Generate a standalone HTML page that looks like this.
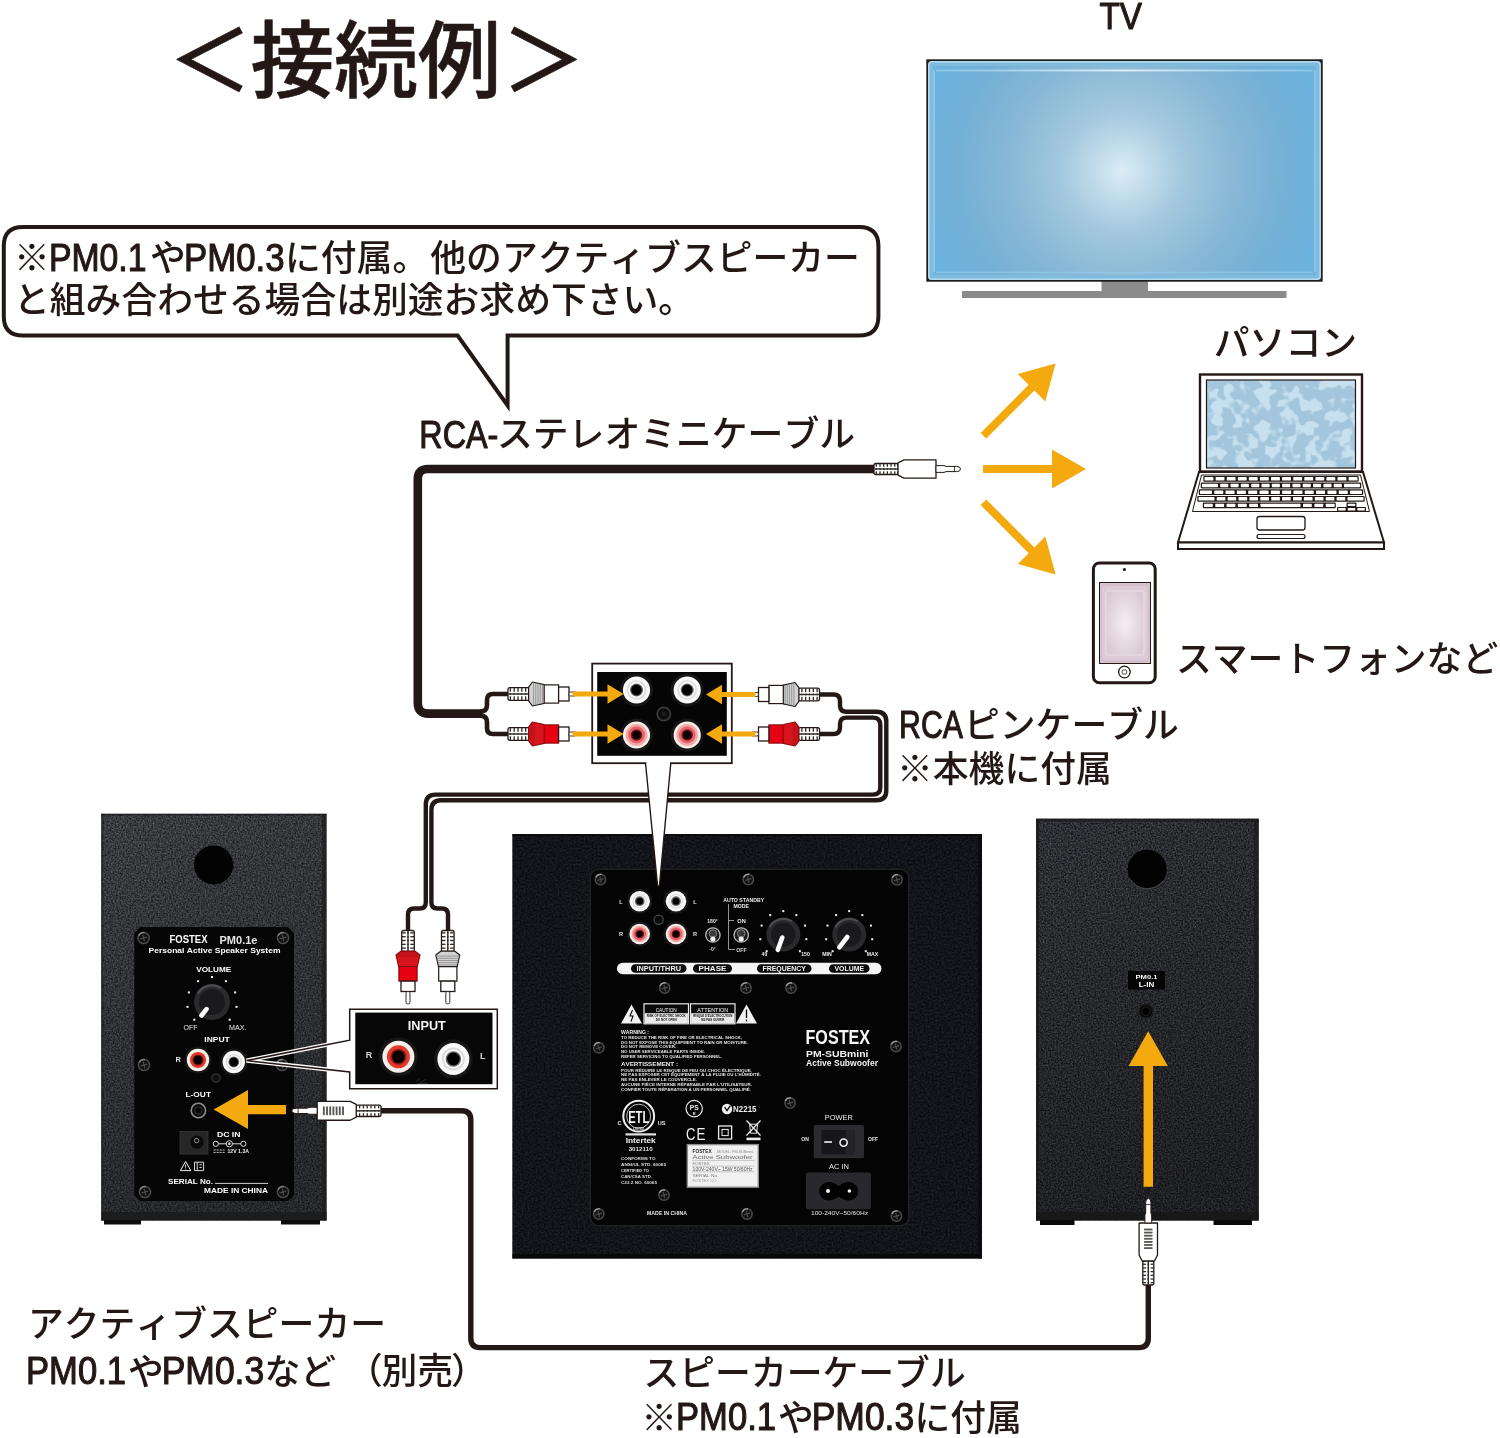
<!DOCTYPE html>
<html lang="ja">
<head>
<meta charset="utf-8">
<title>接続例</title>
<style>
html,body{margin:0;padding:0;background:#fff;}
body{width:1500px;height:1438px;overflow:hidden;position:relative;}
svg{position:absolute;left:0;top:0;display:block;will-change:transform;}
svg text{font-family:"Liberation Sans","Noto Sans CJK JP",sans-serif;font-kerning:none;}
</style>
</head>
<body>
<svg width="1500" height="1438" viewBox="0 0 1500 1438">
<defs>
<radialGradient id="tvg" gradientUnits="userSpaceOnUse" cx="1122" cy="171" r="205">
<stop offset="0" stop-color="#dcedf7"/><stop offset="0.12" stop-color="#c3ddeb"/><stop offset="0.3" stop-color="#a3c8de"/><stop offset="0.55" stop-color="#88b8d6"/><stop offset="0.8" stop-color="#74b0d6"/><stop offset="1" stop-color="#6cb2de"/>
</radialGradient>
<linearGradient id="tvhl" x1="0" x2="1" y1="0" y2="0"><stop offset="0" stop-color="#9fd0ec" stop-opacity="0.6"/><stop offset="0.5" stop-color="#e4f3fb" stop-opacity="1"/><stop offset="1" stop-color="#9fd0ec" stop-opacity="0.6"/></linearGradient>
<radialGradient id="phg" cx="0.5" cy="0.5" r="0.6">
<stop offset="0" stop-color="#f6eef3"/><stop offset="1" stop-color="#d9c9d4"/>
</radialGradient>
<filter id="grain" x="0" y="0" width="100%" height="100%" color-interpolation-filters="sRGB">
<feTurbulence type="fractalNoise" baseFrequency="0.6" numOctaves="2" seed="3" result="n"/>
<feColorMatrix in="n" type="matrix" values="0.42 0 0 0 0.0175  0.42 0 0 0 0.0253  0.42 0 0 0 0.0410  0 0 0 0 1" result="c"/>
<feComposite in="c" in2="SourceAlpha" operator="in"/>
</filter>
<filter id="grainR" x="0" y="0" width="100%" height="100%" color-interpolation-filters="sRGB">
<feTurbulence type="fractalNoise" baseFrequency="0.6" numOctaves="2" seed="8" result="n"/>
<feColorMatrix in="n" type="matrix" values="0.4 0 0 0 -0.0157  0.4 0 0 0 -0.0118  0.4 0 0 0 0.0078  0 0 0 0 1" result="c"/>
<feComposite in="c" in2="SourceAlpha" operator="in"/>
</filter>
<filter id="grain2" x="0" y="0" width="100%" height="100%" color-interpolation-filters="sRGB">
<feTurbulence type="fractalNoise" baseFrequency="0.5" numOctaves="2" seed="11" result="n"/>
<feColorMatrix in="n" type="matrix" values="0.16 0 0 0 -0.0055  0.16 0 0 0 -0.0055  0.16 0 0 0 0.0220  0 0 0 0 1" result="c"/>
<feComposite in="c" in2="SourceAlpha" operator="in"/>
</filter>
<filter id="camo" x="0" y="0" width="100%" height="100%" color-interpolation-filters="sRGB">
<feTurbulence type="fractalNoise" baseFrequency="0.085" numOctaves="2" seed="5" result="n"/>
<feColorMatrix in="n" type="matrix" values="0 0 0 0 0  0 0 0 0 0  0 0 0 0 0  9 0 0 0 -4.3" result="a"/>
<feFlood flood-color="#c6e0ef" result="c"/>
<feComposite in="c" in2="a" operator="in" result="sp"/>
<feMerge><feMergeNode in="SourceGraphic"/><feMergeNode in="sp"/></feMerge>
</filter>
<linearGradient id="shL" x1="0" y1="0" x2="0.25" y2="1"><stop offset="0" stop-color="#000" stop-opacity="0"/><stop offset="0.45" stop-color="#000" stop-opacity="0.16"/><stop offset="1" stop-color="#000" stop-opacity="0.34"/></linearGradient>
<filter id="b1"><feGaussianBlur stdDeviation="0.6"/></filter>
<filter id="b2"><feGaussianBlur stdDeviation="1.2"/></filter>
</defs>
<rect width="1500" height="1438" fill="#ffffff"/>
<path d="M23 227 H859 Q878.4 227 878.4 246 V316.5 Q878.4 335.6 859 335.6 H507.6 V405.5 L457.6 335.6 H23 Q3.8 335.6 3.8 316.5 V246 Q3.8 227 23 227 Z" fill="#fff" stroke="#231815" stroke-width="4" stroke-linejoin="miter"/>
<g>
<rect x="962" y="291" width="324.5" height="7" fill="#8b8b8b"/>
<rect x="1101.5" y="280" width="46.5" height="12" fill="#8b8b8b"/>
<rect x="926.3" y="59.3" width="396.4" height="222.4" fill="#1d1d1f"/>
<rect x="928" y="61" width="393" height="219" rx="3.5" fill="#b4d8ee"/>
<rect x="929.6" y="62.6" width="389.8" height="215.8" rx="3" fill="#7fbbdd"/>
<rect x="933" y="66" width="383" height="209" rx="2" fill="url(#tvg)"/>
<rect x="936" y="69.6" width="377" height="1.8" fill="url(#tvhl)"/>
<path d="M934 70 V272 M1315 70 V272" stroke="#a6d2ec" stroke-width="1.5" opacity="0.75"/>
<path d="M936 272.6 H1313" stroke="#97c9e6" stroke-width="1.5" opacity="0.8"/>
</g>
<g stroke-linejoin="miter">
<rect x="1200" y="374.5" width="162" height="97" fill="#fff" stroke="#231815" stroke-width="2.4"/>
<rect x="1206.5" y="380" width="149" height="88" fill="#a4c6dc" filter="url(#camo)"/>
<rect x="1206.5" y="380" width="149" height="88" fill="none" stroke="#231815" stroke-width="1.2"/>
<path d="M1199 472 L1363 472 L1384 542.5 L1178 542.5 Z" fill="#fff" stroke="#231815" stroke-width="2"/>
<rect x="1178" y="542.5" width="206" height="6.5" fill="#fff" stroke="#231815" stroke-width="2"/>
<path d="M1201.5 475 L1360.5 475 L1369.5 511.5 L1192.5 511.5 Z" fill="#fff" stroke="#231815" stroke-width="1"/>
<rect x="1203.3" y="475.90000000000003" width="155.4" height="5.8" rx="1.2" fill="#231815"/>
<rect x="1204.5" y="477.1" width="8.9" height="3.4" rx="0.6" fill="#fff"/>
<rect x="1215.6" y="477.1" width="8.9" height="3.4" rx="0.6" fill="#fff"/>
<rect x="1226.7" y="477.1" width="8.9" height="3.4" rx="0.6" fill="#fff"/>
<rect x="1237.8" y="477.1" width="8.9" height="3.4" rx="0.6" fill="#fff"/>
<rect x="1248.8" y="477.1" width="8.9" height="3.4" rx="0.6" fill="#fff"/>
<rect x="1259.9" y="477.1" width="8.9" height="3.4" rx="0.6" fill="#fff"/>
<rect x="1271.0" y="477.1" width="8.9" height="3.4" rx="0.6" fill="#fff"/>
<rect x="1282.1" y="477.1" width="8.9" height="3.4" rx="0.6" fill="#fff"/>
<rect x="1293.2" y="477.1" width="8.9" height="3.4" rx="0.6" fill="#fff"/>
<rect x="1304.3" y="477.1" width="8.9" height="3.4" rx="0.6" fill="#fff"/>
<rect x="1315.4" y="477.1" width="8.9" height="3.4" rx="0.6" fill="#fff"/>
<rect x="1326.4" y="477.1" width="8.9" height="3.4" rx="0.6" fill="#fff"/>
<rect x="1337.5" y="477.1" width="8.9" height="3.4" rx="0.6" fill="#fff"/>
<rect x="1348.6" y="477.1" width="8.9" height="3.4" rx="0.6" fill="#fff"/>
<rect x="1200.8" y="482.6" width="160.4" height="5.8" rx="1.2" fill="#231815"/>
<rect x="1202.0" y="483.8" width="16" height="3.4" rx="0.6" fill="#fff"/>
<rect x="1220.2" y="483.8" width="8.1" height="3.4" rx="0.6" fill="#fff"/>
<rect x="1230.5" y="483.8" width="8.1" height="3.4" rx="0.6" fill="#fff"/>
<rect x="1240.8" y="483.8" width="8.1" height="3.4" rx="0.6" fill="#fff"/>
<rect x="1251.2" y="483.8" width="8.1" height="3.4" rx="0.6" fill="#fff"/>
<rect x="1261.5" y="483.8" width="8.1" height="3.4" rx="0.6" fill="#fff"/>
<rect x="1271.8" y="483.8" width="8.1" height="3.4" rx="0.6" fill="#fff"/>
<rect x="1282.1" y="483.8" width="8.1" height="3.4" rx="0.6" fill="#fff"/>
<rect x="1292.4" y="483.8" width="8.1" height="3.4" rx="0.6" fill="#fff"/>
<rect x="1302.7" y="483.8" width="8.1" height="3.4" rx="0.6" fill="#fff"/>
<rect x="1313.0" y="483.8" width="8.1" height="3.4" rx="0.6" fill="#fff"/>
<rect x="1323.4" y="483.8" width="8.1" height="3.4" rx="0.6" fill="#fff"/>
<rect x="1333.7" y="483.8" width="8.1" height="3.4" rx="0.6" fill="#fff"/>
<rect x="1344.0" y="483.8" width="16" height="3.4" rx="0.6" fill="#fff"/>
<rect x="1198.8" y="489.3" width="164.4" height="5.8" rx="1.2" fill="#231815"/>
<rect x="1200.0" y="490.5" width="12" height="3.4" rx="0.6" fill="#fff"/>
<rect x="1214.2" y="490.5" width="9.1" height="3.4" rx="0.6" fill="#fff"/>
<rect x="1225.5" y="490.5" width="9.1" height="3.4" rx="0.6" fill="#fff"/>
<rect x="1236.8" y="490.5" width="9.1" height="3.4" rx="0.6" fill="#fff"/>
<rect x="1248.2" y="490.5" width="9.1" height="3.4" rx="0.6" fill="#fff"/>
<rect x="1259.5" y="490.5" width="9.1" height="3.4" rx="0.6" fill="#fff"/>
<rect x="1270.8" y="490.5" width="9.1" height="3.4" rx="0.6" fill="#fff"/>
<rect x="1282.1" y="490.5" width="9.1" height="3.4" rx="0.6" fill="#fff"/>
<rect x="1293.4" y="490.5" width="9.1" height="3.4" rx="0.6" fill="#fff"/>
<rect x="1304.7" y="490.5" width="9.1" height="3.4" rx="0.6" fill="#fff"/>
<rect x="1316.0" y="490.5" width="9.1" height="3.4" rx="0.6" fill="#fff"/>
<rect x="1327.4" y="490.5" width="9.1" height="3.4" rx="0.6" fill="#fff"/>
<rect x="1338.7" y="490.5" width="9.1" height="3.4" rx="0.6" fill="#fff"/>
<rect x="1350.0" y="490.5" width="12" height="3.4" rx="0.6" fill="#fff"/>
<rect x="1197.3" y="495.90000000000003" width="167.4" height="5.8" rx="1.2" fill="#231815"/>
<rect x="1198.5" y="497.1" width="16" height="3.4" rx="0.6" fill="#fff"/>
<rect x="1216.7" y="497.1" width="8.7" height="3.4" rx="0.6" fill="#fff"/>
<rect x="1227.6" y="497.1" width="8.7" height="3.4" rx="0.6" fill="#fff"/>
<rect x="1238.5" y="497.1" width="8.7" height="3.4" rx="0.6" fill="#fff"/>
<rect x="1249.4" y="497.1" width="8.7" height="3.4" rx="0.6" fill="#fff"/>
<rect x="1260.3" y="497.1" width="8.7" height="3.4" rx="0.6" fill="#fff"/>
<rect x="1271.2" y="497.1" width="8.7" height="3.4" rx="0.6" fill="#fff"/>
<rect x="1282.1" y="497.1" width="8.7" height="3.4" rx="0.6" fill="#fff"/>
<rect x="1293.0" y="497.1" width="8.7" height="3.4" rx="0.6" fill="#fff"/>
<rect x="1303.9" y="497.1" width="8.7" height="3.4" rx="0.6" fill="#fff"/>
<rect x="1314.8" y="497.1" width="8.7" height="3.4" rx="0.6" fill="#fff"/>
<rect x="1325.7" y="497.1" width="8.7" height="3.4" rx="0.6" fill="#fff"/>
<rect x="1336.6" y="497.1" width="8.7" height="3.4" rx="0.6" fill="#fff"/>
<rect x="1347.5" y="497.1" width="16" height="3.4" rx="0.6" fill="#fff"/>
<rect x="1202.8" y="502.5" width="132.99999999999991" height="5.8" rx="1.2" fill="#231815"/>
<rect x="1204.0" y="503.7" width="8.8" height="3.4" rx="0.6" fill="#fff"/>
<rect x="1215.3" y="503.7" width="8.8" height="3.4" rx="0.6" fill="#fff"/>
<rect x="1226.6" y="503.7" width="8.8" height="3.4" rx="0.6" fill="#fff"/>
<rect x="1237.9" y="503.7" width="8.8" height="3.4" rx="0.6" fill="#fff"/>
<rect x="1249.2" y="503.7" width="8.8" height="3.4" rx="0.6" fill="#fff"/>
<rect x="1260.5" y="503.7" width="40" height="3.4" rx="0.6" fill="#fff"/>
<rect x="1303.0" y="503.7" width="8.8" height="3.4" rx="0.6" fill="#fff"/>
<rect x="1314.4" y="503.7" width="8.8" height="3.4" rx="0.6" fill="#fff"/>
<rect x="1325.8" y="503.7" width="8.8" height="3.4" rx="0.6" fill="#fff"/>
<rect x="1337" y="507" width="29" height="4.6" rx="1" fill="#231815"/>
<rect x="1346.5" y="502.6" width="10" height="4.6" rx="1" fill="#231815"/>
<rect x="1338.2" y="508.1" width="7.4" height="2.4" rx="0.5" fill="#fff"/>
<rect x="1347.8" y="508.1" width="7.4" height="2.4" rx="0.5" fill="#fff"/>
<rect x="1357.4" y="508.1" width="7.4" height="2.4" rx="0.5" fill="#fff"/>
<rect x="1347.8" y="503.7" width="7.4" height="2.4" rx="0.5" fill="#fff"/>
<rect x="1257" y="516.5" width="48" height="13.5" rx="2.5" fill="#fff" stroke="#231815" stroke-width="1.3"/>
<rect x="1257" y="534.5" width="48" height="4" rx="2" fill="#fff" stroke="#231815" stroke-width="1.2"/>
</g>
<g>
<rect x="1093.4" y="563" width="61.8" height="119.8" rx="6" fill="#fff" stroke="#231815" stroke-width="3"/>
<rect x="1099.5" y="582.5" width="51" height="81" fill="#d7c5d2" stroke="#231815" stroke-width="1"/>
<rect x="1101.5" y="585" width="47" height="76" rx="3" fill="#dccbd6" stroke="#cdbac8" stroke-width="1"/>
<rect x="1106" y="591" width="38" height="64" rx="1.5" fill="url(#phg)"/>
<rect x="1106" y="591" width="38" height="64" rx="1.5" fill="none" stroke="#eadfe6" stroke-width="1.2"/>
<circle cx="1124.4" cy="672" r="5.8" fill="#fff" stroke="#231815" stroke-width="1.3"/>
<rect x="1122.2" y="669.9" width="4.4" height="4.2" rx="1.2" fill="none" stroke="#231815" stroke-width="0.8"/>
<circle cx="1124.4" cy="569.5" r="1.6" fill="#231815"/>
</g>
<polygon points="986.3,438.5 1034.4,390.5 1045.3,401.4 1055.6,363.6 1017.8,373.9 1028.7,384.8 980.7,432.9" fill="#f4a90f"/>
<polygon points="983.0,473.0 1052.0,473.0 1052.0,488.5 1086.0,469.0 1052.0,449.5 1052.0,465.0 983.0,465.0" fill="#f4a90f"/>
<polygon points="980.7,505.1 1028.7,553.2 1017.8,564.1 1055.6,574.4 1045.3,536.6 1034.4,547.5 986.3,499.5" fill="#f4a90f"/>
<path d="M875 469 H428 Q417.8 469 417.8 479 V703 Q417.8 713.6 428.5 713.6 H482.5" fill="none" stroke="#231815" stroke-width="8.6" stroke-linejoin="round" stroke-linecap="butt"/>
<path d="M480 711.6 Q487 711.6 487 705 V700 Q487 694 493 694 H509" fill="none" stroke="#231815" stroke-width="4.6" stroke-linejoin="round" stroke-linecap="butt"/>
<path d="M480 715.6 Q487 715.6 487 722 V728 Q487 734 493 734 H509" fill="none" stroke="#231815" stroke-width="4.6" stroke-linejoin="round" stroke-linecap="butt"/>
<g transform="translate(874 469) rotate(0) scale(1.0)"><rect x="0" y="-5.5" width="24" height="11" rx="1.6" fill="#fff" stroke="#231815" stroke-width="1.3"/><rect x="1.66" y="-5.20" width="1.26" height="10.40" fill="#2c2724"/><rect x="5.35" y="-5.20" width="1.26" height="10.40" fill="#2c2724"/><rect x="9.05" y="-5.20" width="1.26" height="10.40" fill="#2c2724"/><rect x="12.74" y="-5.20" width="1.26" height="10.40" fill="#2c2724"/><rect x="16.43" y="-5.20" width="1.26" height="10.40" fill="#2c2724"/><rect x="20.12" y="-5.20" width="1.26" height="10.40" fill="#2c2724"/><rect x="1" y="-2.3" width="23" height="1.5" fill="#fff"/><rect x="1" y="0.8" width="23" height="1.5" fill="#fff"/><rect x="0.6" y="-0.7" width="23.4" height="1.4" fill="#2c2724"/><path d="M24 -6.2 L30 -9.2 H62 V9.2 H30 L24 6.2 Z" fill="#fff" stroke="#231815" stroke-width="1.3" stroke-linejoin="round"/><path d="M62 -3.4 H70 L72 -2.6 H82.5 Q86.5 -2.6 86.5 0 Q86.5 2.6 82.5 2.6 H72 L70 3.4 H62 Z" fill="#fff" stroke="#231815" stroke-width="1"/><path d="M80.5 -2.6 V2.6" stroke="#231815" stroke-width="0.8"/></g>
<path d="M819 694.5 H833.5 Q840 694.5 840 701 V705.5 Q840 711.8 846.5 711.8 H876.5 Q886.3 711.8 886.3 721.5 V790.5 Q886.3 800.2 876.5 800.2 H441 Q431.4 800.2 431.4 810 V902.5 Q431.4 908.5 437.5 908.5 H442 Q448 908.5 448 914.5 V931" fill="none" stroke="#231815" stroke-width="4.4" stroke-linejoin="round" stroke-linecap="butt"/>
<path d="M819 734 H833.5 Q840 734 840 727.5 V724 Q840 717.6 846.5 717.6 H873 Q880.3 717.6 880.3 725 V787.5 Q880.3 794.6 873 794.6 H435.5 Q425.8 794.6 425.8 804.5 V902.5 Q425.8 908.5 419.7 908.5 H414 Q408 908.5 408 914.5 V931" fill="none" stroke="#231815" stroke-width="4.4" stroke-linejoin="round" stroke-linecap="butt"/>
<g>
<rect x="101.3" y="813.8" width="225.2" height="406.7" fill="#3a3c40" filter="url(#grain)"/>
<rect x="101.3" y="813.8" width="225.2" height="406.7" fill="url(#shL)"/>
<rect x="101.3" y="813.8" width="2" height="406.7" fill="#222326" opacity="0.8"/>
<rect x="322" y="814" width="4.5" height="406.5" fill="#1c1c1d" opacity="0.7"/>
<rect x="101.3" y="813.8" width="225.2" height="1.6" fill="#1c1d20" opacity="0.85"/>
<rect x="101.5" y="1212" width="225" height="8.5" fill="#1a1a1b" opacity="0.8"/>
<rect x="104" y="1220" width="37" height="4.5" fill="#0c0c0c"/>
<rect x="281" y="1220" width="39" height="4.5" fill="#0c0c0c"/>
<circle cx="213.6" cy="865" r="19.6" fill="#030303"/>
<path d="M140 927 H288 L294 933 V1195 L288 1201 H140 L134.3 1195 V933 Z" fill="#060607"/>
<circle cx="143.6" cy="938" r="5.6" fill="#121212" stroke="#4a4a4a" stroke-width="1.5"/>
<path d="M140.2 938.8 L147.0 937.2 M142.8 934.6 L144.4 941.4" stroke="#4a4a4a" stroke-width="1.2"/>
<path d="M138.6 935.8 A5.6 5.6 0 0 1 144.7 932.6" stroke="#8a8a8a" stroke-width="1.3" fill="none" opacity="0.85"/>
<circle cx="283" cy="938" r="5.6" fill="#121212" stroke="#4a4a4a" stroke-width="1.5"/>
<path d="M279.6 938.8 L286.4 937.2 M282.2 934.6 L283.8 941.4" stroke="#4a4a4a" stroke-width="1.2"/>
<path d="M278.0 935.8 A5.6 5.6 0 0 1 284.1 932.6" stroke="#8a8a8a" stroke-width="1.3" fill="none" opacity="0.85"/>
<circle cx="144" cy="1065" r="5.6" fill="#121212" stroke="#4a4a4a" stroke-width="1.5"/>
<path d="M140.6 1065.8 L147.4 1064.2 M143.2 1061.6 L144.8 1068.4" stroke="#4a4a4a" stroke-width="1.2"/>
<path d="M139.0 1062.8 A5.6 5.6 0 0 1 145.1 1059.6" stroke="#8a8a8a" stroke-width="1.3" fill="none" opacity="0.85"/>
<circle cx="282" cy="1065" r="5.6" fill="#121212" stroke="#4a4a4a" stroke-width="1.5"/>
<path d="M278.6 1065.8 L285.4 1064.2 M281.2 1061.6 L282.8 1068.4" stroke="#4a4a4a" stroke-width="1.2"/>
<path d="M277.0 1062.8 A5.6 5.6 0 0 1 283.1 1059.6" stroke="#8a8a8a" stroke-width="1.3" fill="none" opacity="0.85"/>
<circle cx="145" cy="1192" r="5.6" fill="#121212" stroke="#4a4a4a" stroke-width="1.5"/>
<path d="M141.6 1192.8 L148.4 1191.2 M144.2 1188.6 L145.8 1195.4" stroke="#4a4a4a" stroke-width="1.2"/>
<path d="M140.0 1189.8 A5.6 5.6 0 0 1 146.1 1186.6" stroke="#8a8a8a" stroke-width="1.3" fill="none" opacity="0.85"/>
<circle cx="283" cy="1192" r="5.6" fill="#121212" stroke="#4a4a4a" stroke-width="1.5"/>
<path d="M279.6 1192.8 L286.4 1191.2 M282.2 1188.6 L283.8 1195.4" stroke="#4a4a4a" stroke-width="1.2"/>
<path d="M278.0 1189.8 A5.6 5.6 0 0 1 284.1 1186.6" stroke="#8a8a8a" stroke-width="1.3" fill="none" opacity="0.85"/>
<text x="169.5" y="943.4" font-size="10.8" fill="#fff" font-weight="700" textLength="38" lengthAdjust="spacingAndGlyphs">FOSTEX</text>
<text x="219.5" y="943.6" font-size="10.8" fill="#e6e6e6" font-weight="700" textLength="38" lengthAdjust="spacingAndGlyphs">PM0.1e</text>
<text x="148.5" y="953.2" font-size="6.6" fill="#fff" font-weight="700" textLength="132" lengthAdjust="spacingAndGlyphs">Personal Active Speaker System</text>
<text x="196.3" y="972" font-size="7.2" fill="#fff" font-weight="700" textLength="35" lengthAdjust="spacingAndGlyphs">VOLUME</text>
<circle cx="212" cy="1002" r="18" fill="#2a2a2c"/>
<circle cx="212" cy="1002" r="13.0" fill="#1a1a1c"/>
<path d="M197.6 993.9 A16.6 16.6 0 0 1 221.0 988.0" stroke="#55555a" stroke-width="2.2" fill="none" opacity="0.8"/>
<path d="M206.5 1009.1 L201.5 1015.5" stroke="#ffffff" stroke-width="4.6" stroke-linecap="round"/>
<rect x="193.3" y="1018.7" width="2" height="2" fill="#f2f2f2"/>
<rect x="186.5" y="1005.9" width="2" height="2" fill="#f2f2f2"/>
<rect x="187.9" y="991.4" width="2" height="2" fill="#f2f2f2"/>
<rect x="197.1" y="980.2" width="2" height="2" fill="#f2f2f2"/>
<rect x="211.0" y="976.0" width="2" height="2" fill="#f2f2f2"/>
<rect x="224.9" y="980.2" width="2" height="2" fill="#f2f2f2"/>
<rect x="234.1" y="991.4" width="2" height="2" fill="#f2f2f2"/>
<rect x="235.5" y="1005.9" width="2" height="2" fill="#f2f2f2"/>
<rect x="228.7" y="1018.7" width="2" height="2" fill="#f2f2f2"/>
<text x="183.5" y="1030.3" font-size="6.6" fill="#ededed" font-weight="400" textLength="14" lengthAdjust="spacingAndGlyphs">OFF</text>
<text x="229" y="1030.3" font-size="6.6" fill="#ededed" font-weight="400" textLength="17.5" lengthAdjust="spacingAndGlyphs">MAX.</text>
<text x="204.3" y="1041.8" font-size="7.2" fill="#fff" font-weight="700" textLength="25.5" lengthAdjust="spacingAndGlyphs">INPUT</text>
<text x="175.6" y="1062" font-size="7.4" fill="#e6e6e6" font-weight="700">R</text>
<g filter="url(#b1)">
<circle cx="198" cy="1060" r="13.7" fill="#151515"/>
<circle cx="198" cy="1060" r="11.2" fill="#f6efe9"/>
<circle cx="198" cy="1060" r="8.1" fill="#e5382a"/>
<circle cx="198" cy="1060" r="5.6" fill="#8e1a14"/>
<circle cx="198" cy="1060" r="4.5" fill="#0a0505"/>
</g>
<g filter="url(#b1)">
<circle cx="233.8" cy="1062" r="13.7" fill="#151515"/>
<circle cx="233.8" cy="1062" r="11.2" fill="#f8f8f8"/>
<circle cx="233.8" cy="1062" r="8.1" fill="#dcdcdc"/>
<circle cx="233.8" cy="1062" r="6.7" fill="#fbfbfb"/>
<circle cx="233.8" cy="1062" r="5.4" fill="#6a6a6a"/>
<circle cx="233.8" cy="1062" r="4.5" fill="#060606"/>
</g>
<circle cx="216" cy="1078" r="4.2" fill="#111" stroke="#333" stroke-width="1.2"/>
<text x="185.5" y="1096.6" font-size="7.2" fill="#fff" font-weight="700" textLength="25.5" lengthAdjust="spacingAndGlyphs">L-OUT</text>
<circle cx="198.4" cy="1110.5" r="7.2" fill="#0a0a0a" stroke="#8c8c8c" stroke-width="1.6"/>
<circle cx="198.4" cy="1110.5" r="3.6" fill="#000" stroke="#3a3a3a" stroke-width="1"/>
<rect x="180" y="1131.5" width="28" height="22.5" fill="#262627" stroke="#3a3a3b" stroke-width="0.8"/>
<circle cx="197" cy="1142.2" r="6.6" fill="#0a0a0a"/>
<circle cx="196.6" cy="1140.6" r="2.2" fill="none" stroke="#9a9a9a" stroke-width="0.9"/>
<text x="217" y="1136.8" font-size="7.2" fill="#fff" font-weight="700" textLength="23.5" lengthAdjust="spacingAndGlyphs">DC IN</text>
<g stroke="#f0f0f0" stroke-width="0.9" fill="none"><circle cx="215.8" cy="1143.8" r="2.6"/><circle cx="229.4" cy="1143.8" r="3.1"/><circle cx="243.4" cy="1143.8" r="2.6"/><path d="M218.4 1143.8 H226.3 M232.5 1143.8 H240.8"/></g>
<circle cx="229.4" cy="1143.8" r="1.2" fill="#f0f0f0"/>
<path d="M213.5 1150 H225 M213.5 1152.4 H225" stroke="#e6e6e6" stroke-width="0.8" stroke-dasharray="2.2 0.8"/>
<text x="227.5" y="1153.4" font-size="5.6" fill="#ededed" font-weight="700" textLength="21.5" lengthAdjust="spacingAndGlyphs">12V 1.3A</text>
<path d="M185.6 1161.5 L190.8 1170.6 H180.4 Z" fill="none" stroke="#f0f0f0" stroke-width="1"/>
<path d="M185.6 1164.6 V1167.6 M185.6 1168.6 V1169.4" stroke="#f0f0f0" stroke-width="0.9"/>
<path d="M194.5 1162.2 H203.6 V1170.6 H194.5 Z M197.2 1162.2 V1170.6 M199.4 1164.8 H201.8 M199.4 1167.4 H201.8" fill="none" stroke="#f0f0f0" stroke-width="0.9"/>
<text x="168" y="1184.4" font-size="7" fill="#fff" font-weight="700" textLength="45" lengthAdjust="spacingAndGlyphs">SERIAL No.</text>
<path d="M215 1183.4 H268" stroke="#e8e8e8" stroke-width="0.9"/>
<text x="204" y="1193.4" font-size="7" fill="#fff" font-weight="700" textLength="64" lengthAdjust="spacingAndGlyphs">MADE IN CHINA</text>
</g>
<g>
<rect x="1036" y="818.5" width="222.8" height="402" fill="#2f3035" filter="url(#grainR)"/>
<rect x="1036" y="818.5" width="222.8" height="402" fill="url(#shL)"/>
<rect x="1036" y="819" width="3" height="401.5" fill="#1b1b1c" opacity="0.8"/>
<rect x="1254" y="819" width="4.5" height="401.5" fill="#1b1b1c" opacity="0.7"/>
<rect x="1036" y="819" width="222.5" height="2.5" fill="#1b1b1c" opacity="0.8"/>
<rect x="1036" y="1212" width="222.5" height="8.5" fill="#161617" opacity="0.8"/>
<rect x="1040" y="1220" width="34.5" height="5" fill="#0a0a0a"/>
<rect x="1213.5" y="1220" width="38.5" height="5" fill="#0a0a0a"/>
<circle cx="1147.2" cy="869.3" r="19.6" fill="#030303"/>
<path d="M1130.5 879.5 A19.8 19.8 0 0 0 1163 880.8" stroke="#6a675f" stroke-width="1" fill="none" opacity="0.7"/>
<rect x="1128" y="971" width="37" height="18.5" fill="#050505"/>
<text x="1146.5" y="978.6" font-size="6.2" fill="#fff" font-weight="700" textLength="22" lengthAdjust="spacingAndGlyphs" text-anchor="middle">PM0.1</text>
<text x="1146.5" y="987.4" font-size="7" fill="#fff" font-weight="700" textLength="15.5" lengthAdjust="spacingAndGlyphs" text-anchor="middle">L-IN</text>
<circle cx="1146" cy="1011.2" r="6.8" fill="#070707" stroke="#1a1a1a" stroke-width="1.5"/>
<circle cx="1146" cy="1011.2" r="4.2" fill="#000" stroke="#2c2c2c" stroke-width="0.8"/>
</g>
<rect x="349.7" y="1009.3" width="147.6" height="79.5" fill="#fff"/>
<path d="M349.7 1040.2 V1009.3 H497.3 V1088.8 H349.7 V1072 L246.5 1060.6 Z" fill="none" stroke="#fff" stroke-width="4.2" stroke-linejoin="miter"/>
<path d="M349.7 1040.2 V1009.3 H497.3 V1088.8 H349.7 V1072 L246.5 1060.6 Z" fill="none" stroke="#231815" stroke-width="1.5" stroke-linejoin="miter"/>
<rect x="355.3" y="1012.6" width="137.2" height="71.6" fill="#070708"/>
<g filter="url(#b1)">
<text x="426.8" y="1030" font-size="12.4" fill="#f6f6f6" font-weight="700" textLength="38" lengthAdjust="spacingAndGlyphs" text-anchor="middle">INPUT</text>
<text x="369" y="1057.6" font-size="9" fill="#d0d0d0" font-weight="700" text-anchor="middle">R</text>
<text x="482.8" y="1058.6" font-size="9" fill="#d0d0d0" font-weight="700" text-anchor="middle">L</text>
<path d="M416 1081.5 l4 -3 M421 1082.5 l5 -3.5 M417 1083.5 h10" stroke="#2a2a2a" stroke-width="1"/>
</g>
<g filter="url(#b1)">
<circle cx="398.4" cy="1056.8" r="19.5" fill="#151515"/>
<circle cx="398.4" cy="1056.8" r="16.0" fill="#f6efe9"/>
<circle cx="398.4" cy="1056.8" r="11.5" fill="#e5382a"/>
<circle cx="398.4" cy="1056.8" r="8.0" fill="#8e1a14"/>
<circle cx="398.4" cy="1056.8" r="6.4" fill="#0a0505"/>
</g>
<g filter="url(#b1)">
<circle cx="453.4" cy="1059" r="19.5" fill="#151515"/>
<circle cx="453.4" cy="1059" r="16.0" fill="#f8f8f8"/>
<circle cx="453.4" cy="1059" r="11.5" fill="#dcdcdc"/>
<circle cx="453.4" cy="1059" r="9.6" fill="#fbfbfb"/>
<circle cx="453.4" cy="1059" r="7.7" fill="#6a6a6a"/>
<circle cx="453.4" cy="1059" r="6.4" fill="#060606"/>
</g>
<polygon points="213.6,1109.6 248,1090 248,1105 286,1105 286,1114.2 248,1114.2 248,1129" fill="#f4a90f"/>
<polygon points="1148.2,1031.3 1167.8,1066 1153,1066 1153,1186.8 1143.6,1186.8 1143.6,1066 1128.6,1066" fill="#f4a90f"/>
<path d="M380 1110.8 H462 Q470.8 1110.8 470.8 1120 V1338 Q470.8 1347.6 480 1347.6 H1139 Q1148.3 1347.6 1148.3 1338 V1284" fill="none" stroke="#231815" stroke-width="5.4" stroke-linejoin="round" stroke-linecap="butt"/>
<g transform="translate(381 1110.8) rotate(180) scale(1.03)"><rect x="0" y="-5.5" width="24" height="11" rx="1.6" fill="#fff" stroke="#231815" stroke-width="1.3"/><rect x="1.66" y="-5.20" width="1.26" height="10.40" fill="#2c2724"/><rect x="5.35" y="-5.20" width="1.26" height="10.40" fill="#2c2724"/><rect x="9.05" y="-5.20" width="1.26" height="10.40" fill="#2c2724"/><rect x="12.74" y="-5.20" width="1.26" height="10.40" fill="#2c2724"/><rect x="16.43" y="-5.20" width="1.26" height="10.40" fill="#2c2724"/><rect x="20.12" y="-5.20" width="1.26" height="10.40" fill="#2c2724"/><rect x="1" y="-2.3" width="23" height="1.5" fill="#fff"/><rect x="1" y="0.8" width="23" height="1.5" fill="#fff"/><rect x="0.6" y="-0.7" width="23.4" height="1.4" fill="#2c2724"/><path d="M24 -6.2 L30 -9.2 H62 V9.2 H30 L24 6.2 Z" fill="#fff" stroke="#231815" stroke-width="1.3" stroke-linejoin="round"/><path d="M62 -3.4 H70 L72 -2.6 H82.5 Q86.5 -2.6 86.5 0 Q86.5 2.6 82.5 2.6 H72 L70 3.4 H62 Z" fill="#fff" stroke="#231815" stroke-width="1"/><path d="M80.5 -2.6 V2.6" stroke="#231815" stroke-width="0.8"/></g>
<g transform="translate(381 1110.8) rotate(180) scale(1.03)"><rect x="36.0" y="-4.2" width="1.8" height="8.4" fill="#5a5654"/><rect x="39.1" y="-4.2" width="1.8" height="8.4" fill="#5a5654"/><rect x="42.2" y="-4.2" width="1.8" height="8.4" fill="#5a5654"/><rect x="45.3" y="-4.2" width="1.8" height="8.4" fill="#5a5654"/><rect x="48.4" y="-4.2" width="1.8" height="8.4" fill="#5a5654"/><rect x="51.5" y="-4.2" width="1.8" height="8.4" fill="#5a5654"/><rect x="54.6" y="-4.2" width="1.8" height="8.4" fill="#5a5654"/></g>
<g transform="translate(1148.3 1285) rotate(-90) scale(1.0)"><rect x="0" y="-5.5" width="24" height="11" rx="1.6" fill="#fff" stroke="#231815" stroke-width="1.3"/><rect x="1.66" y="-5.20" width="1.26" height="10.40" fill="#2c2724"/><rect x="5.35" y="-5.20" width="1.26" height="10.40" fill="#2c2724"/><rect x="9.05" y="-5.20" width="1.26" height="10.40" fill="#2c2724"/><rect x="12.74" y="-5.20" width="1.26" height="10.40" fill="#2c2724"/><rect x="16.43" y="-5.20" width="1.26" height="10.40" fill="#2c2724"/><rect x="20.12" y="-5.20" width="1.26" height="10.40" fill="#2c2724"/><rect x="1" y="-2.3" width="23" height="1.5" fill="#fff"/><rect x="1" y="0.8" width="23" height="1.5" fill="#fff"/><rect x="0.6" y="-0.7" width="23.4" height="1.4" fill="#2c2724"/><path d="M24 -6.2 L30 -9.2 H62 V9.2 H30 L24 6.2 Z" fill="#fff" stroke="#231815" stroke-width="1.3" stroke-linejoin="round"/><path d="M62 -3.4 H70 L72 -2.6 H82.5 Q86.5 -2.6 86.5 0 Q86.5 2.6 82.5 2.6 H72 L70 3.4 H62 Z" fill="#fff" stroke="#231815" stroke-width="1"/><path d="M80.5 -2.6 V2.6" stroke="#231815" stroke-width="0.8"/></g>
<g transform="translate(1148.3 1285) rotate(-90) scale(1.0)"><rect x="36.0" y="-4.2" width="1.8" height="8.4" fill="#5a5654"/><rect x="39.1" y="-4.2" width="1.8" height="8.4" fill="#5a5654"/><rect x="42.2" y="-4.2" width="1.8" height="8.4" fill="#5a5654"/><rect x="45.3" y="-4.2" width="1.8" height="8.4" fill="#5a5654"/><rect x="48.4" y="-4.2" width="1.8" height="8.4" fill="#5a5654"/><rect x="51.5" y="-4.2" width="1.8" height="8.4" fill="#5a5654"/><rect x="54.6" y="-4.2" width="1.8" height="8.4" fill="#5a5654"/></g>
<g>
<rect x="512.3" y="834" width="469.7" height="424.5" fill="#13131a" filter="url(#grain2)"/>
<rect x="512.5" y="834" width="469.5" height="2" fill="#0b0b0e" opacity="0.9"/>
<rect x="512.5" y="1254" width="469.5" height="4.5" fill="#08080a" opacity="0.9"/>
<rect x="978" y="834" width="4" height="424.5" fill="#0a0a0d" opacity="0.8"/>
<rect x="589.5" y="868.5" width="320" height="358" rx="9" fill="#1f1f24"/>
<rect x="591" y="870" width="317" height="355" rx="8" fill="#040405"/>
<circle cx="600.5" cy="879.5" r="5.2" fill="#121212" stroke="#4a4a4a" stroke-width="1.5"/>
<path d="M597.4 880.3 L603.6 878.7 M599.7 876.4 L601.3 882.6" stroke="#4a4a4a" stroke-width="1.2"/>
<path d="M595.8 877.4 A5.2 5.2 0 0 1 601.5 874.5" stroke="#b0b0b0" stroke-width="1.3" fill="none" opacity="0.85"/>
<circle cx="748.3" cy="879.5" r="5.2" fill="#121212" stroke="#4a4a4a" stroke-width="1.5"/>
<path d="M745.2 880.3 L751.4 878.7 M747.5 876.4 L749.1 882.6" stroke="#4a4a4a" stroke-width="1.2"/>
<path d="M743.6 877.4 A5.2 5.2 0 0 1 749.3 874.5" stroke="#b0b0b0" stroke-width="1.3" fill="none" opacity="0.85"/>
<circle cx="897" cy="879.8" r="5.2" fill="#121212" stroke="#4a4a4a" stroke-width="1.5"/>
<path d="M893.9 880.6 L900.1 879.0 M896.2 876.7 L897.8 882.9" stroke="#4a4a4a" stroke-width="1.2"/>
<path d="M892.3 877.7 A5.2 5.2 0 0 1 898.0 874.8" stroke="#b0b0b0" stroke-width="1.3" fill="none" opacity="0.85"/>
<circle cx="664.7" cy="988" r="5.2" fill="#121212" stroke="#4a4a4a" stroke-width="1.5"/>
<path d="M661.6 988.8 L667.8 987.2 M663.9 984.9 L665.5 991.1" stroke="#4a4a4a" stroke-width="1.2"/>
<path d="M660.0 985.9 A5.2 5.2 0 0 1 665.7 983.0" stroke="#b0b0b0" stroke-width="1.3" fill="none" opacity="0.85"/>
<circle cx="746" cy="988" r="5.2" fill="#121212" stroke="#4a4a4a" stroke-width="1.5"/>
<path d="M742.9 988.8 L749.1 987.2 M745.2 984.9 L746.8 991.1" stroke="#4a4a4a" stroke-width="1.2"/>
<path d="M741.3 985.9 A5.2 5.2 0 0 1 747.0 983.0" stroke="#b0b0b0" stroke-width="1.3" fill="none" opacity="0.85"/>
<circle cx="791" cy="988" r="5.2" fill="#121212" stroke="#4a4a4a" stroke-width="1.5"/>
<path d="M787.9 988.8 L794.1 987.2 M790.2 984.9 L791.8 991.1" stroke="#4a4a4a" stroke-width="1.2"/>
<path d="M786.3 985.9 A5.2 5.2 0 0 1 792.0 983.0" stroke="#b0b0b0" stroke-width="1.3" fill="none" opacity="0.85"/>
<circle cx="598.8" cy="1047.8" r="5.2" fill="#121212" stroke="#4a4a4a" stroke-width="1.5"/>
<path d="M595.7 1048.6 L601.9 1047.0 M598.0 1044.7 L599.6 1050.9" stroke="#4a4a4a" stroke-width="1.2"/>
<path d="M594.1 1045.7 A5.2 5.2 0 0 1 599.8 1042.8" stroke="#b0b0b0" stroke-width="1.3" fill="none" opacity="0.85"/>
<circle cx="896" cy="1046.5" r="5.2" fill="#121212" stroke="#4a4a4a" stroke-width="1.5"/>
<path d="M892.9 1047.3 L899.1 1045.7 M895.2 1043.4 L896.8 1049.6" stroke="#4a4a4a" stroke-width="1.2"/>
<path d="M891.3 1044.4 A5.2 5.2 0 0 1 897.0 1041.5" stroke="#b0b0b0" stroke-width="1.3" fill="none" opacity="0.85"/>
<circle cx="790" cy="1103" r="5.2" fill="#121212" stroke="#4a4a4a" stroke-width="1.5"/>
<path d="M786.9 1103.8 L793.1 1102.2 M789.2 1099.9 L790.8 1106.1" stroke="#4a4a4a" stroke-width="1.2"/>
<path d="M785.3 1100.9 A5.2 5.2 0 0 1 791.0 1098.0" stroke="#b0b0b0" stroke-width="1.3" fill="none" opacity="0.85"/>
<circle cx="664" cy="1195" r="5.2" fill="#121212" stroke="#4a4a4a" stroke-width="1.5"/>
<path d="M660.9 1195.8 L667.1 1194.2 M663.2 1191.9 L664.8 1198.1" stroke="#4a4a4a" stroke-width="1.2"/>
<path d="M659.3 1192.9 A5.2 5.2 0 0 1 665.0 1190.0" stroke="#b0b0b0" stroke-width="1.3" fill="none" opacity="0.85"/>
<circle cx="598.8" cy="1214" r="5.2" fill="#121212" stroke="#4a4a4a" stroke-width="1.5"/>
<path d="M595.7 1214.8 L601.9 1213.2 M598.0 1210.9 L599.6 1217.1" stroke="#4a4a4a" stroke-width="1.2"/>
<path d="M594.1 1211.9 A5.2 5.2 0 0 1 599.8 1209.0" stroke="#b0b0b0" stroke-width="1.3" fill="none" opacity="0.85"/>
<circle cx="747" cy="1214" r="5.2" fill="#121212" stroke="#4a4a4a" stroke-width="1.5"/>
<path d="M743.9 1214.8 L750.1 1213.2 M746.2 1210.9 L747.8 1217.1" stroke="#4a4a4a" stroke-width="1.2"/>
<path d="M742.3 1211.9 A5.2 5.2 0 0 1 748.0 1209.0" stroke="#b0b0b0" stroke-width="1.3" fill="none" opacity="0.85"/>
<circle cx="896.5" cy="1216" r="5.2" fill="#121212" stroke="#4a4a4a" stroke-width="1.5"/>
<path d="M893.4 1216.8 L899.6 1215.2 M895.7 1212.9 L897.3 1219.1" stroke="#4a4a4a" stroke-width="1.2"/>
<path d="M891.8 1213.9 A5.2 5.2 0 0 1 897.5 1211.0" stroke="#b0b0b0" stroke-width="1.3" fill="none" opacity="0.85"/>
<g filter="url(#b1)">
<circle cx="639.7" cy="901.2" r="12.6" fill="#151515"/>
<circle cx="639.7" cy="901.2" r="10.3" fill="#f8f8f8"/>
<circle cx="639.7" cy="901.2" r="7.4" fill="#dcdcdc"/>
<circle cx="639.7" cy="901.2" r="6.2" fill="#fbfbfb"/>
<circle cx="639.7" cy="901.2" r="4.9" fill="#6a6a6a"/>
<circle cx="639.7" cy="901.2" r="3.5" fill="#060606"/>
</g>
<g filter="url(#b1)">
<circle cx="676" cy="901.2" r="12.6" fill="#151515"/>
<circle cx="676" cy="901.2" r="10.3" fill="#f8f8f8"/>
<circle cx="676" cy="901.2" r="7.4" fill="#dcdcdc"/>
<circle cx="676" cy="901.2" r="6.2" fill="#fbfbfb"/>
<circle cx="676" cy="901.2" r="4.9" fill="#6a6a6a"/>
<circle cx="676" cy="901.2" r="3.5" fill="#060606"/>
</g>
<g filter="url(#b1)">
<circle cx="639.7" cy="934" r="12.6" fill="#151515"/>
<circle cx="639.7" cy="934" r="10.3" fill="#f6efe9"/>
<circle cx="639.7" cy="934" r="8.2" fill="#f2a9a8"/>
<circle cx="639.7" cy="934" r="6.4" fill="#e4646a"/>
<circle cx="639.7" cy="934" r="4.3" fill="#6e1218"/>
<circle cx="639.7" cy="934" r="3.1" fill="#0a0505"/>
</g>
<g filter="url(#b1)">
<circle cx="676" cy="934" r="12.6" fill="#151515"/>
<circle cx="676" cy="934" r="10.3" fill="#f6efe9"/>
<circle cx="676" cy="934" r="8.2" fill="#f2a9a8"/>
<circle cx="676" cy="934" r="6.4" fill="#e4646a"/>
<circle cx="676" cy="934" r="4.3" fill="#6e1218"/>
<circle cx="676" cy="934" r="3.1" fill="#0a0505"/>
</g>
<circle cx="658.6" cy="919.7" r="4.6" fill="#0a0a0a" stroke="#4a4a4a" stroke-width="1.2"/>
<text x="621" y="903.5" font-size="5.6" fill="#e0e0e0" font-weight="700" text-anchor="middle">L</text>
<text x="695" y="903.5" font-size="5.6" fill="#e0e0e0" font-weight="700" text-anchor="middle">L</text>
<text x="621" y="936" font-size="5.6" fill="#e0e0e0" font-weight="700" text-anchor="middle">R</text>
<text x="695" y="936" font-size="5.6" fill="#e0e0e0" font-weight="700" text-anchor="middle">R</text>
<circle cx="712.9" cy="935" r="7.2" fill="#1a1a1a" stroke="#bdbdbd" stroke-width="1.3"/>
<circle cx="712.9" cy="933.6" r="3.8" fill="#3a3a3a" stroke="#8d8d8d" stroke-width="0.9"/>
<circle cx="712.9" cy="939" r="2.6" fill="#f4f4f4"/>
<circle cx="741.2" cy="935" r="7.2" fill="#1a1a1a" stroke="#bdbdbd" stroke-width="1.3"/>
<circle cx="741.2" cy="933.6" r="3.8" fill="#3a3a3a" stroke="#8d8d8d" stroke-width="0.9"/>
<circle cx="741.2" cy="939" r="2.6" fill="#f4f4f4"/>
<text x="712.5" y="922.5" font-size="5.2" fill="#ececec" font-weight="700" textLength="10.5" lengthAdjust="spacingAndGlyphs" text-anchor="middle">180°</text>
<text x="712.5" y="951.3" font-size="5" fill="#dcdcdc" font-weight="700" text-anchor="middle">-0°</text>
<text x="743.7" y="902" font-size="5.6" fill="#ececec" font-weight="700" textLength="41" lengthAdjust="spacingAndGlyphs" text-anchor="middle">AUTO STANDBY</text>
<text x="741.2" y="908.2" font-size="5.6" fill="#ececec" font-weight="700" textLength="15.5" lengthAdjust="spacingAndGlyphs" text-anchor="middle">MODE</text>
<text x="741.5" y="922.6" font-size="5.6" fill="#ececec" font-weight="700" text-anchor="middle">ON</text>
<text x="741.5" y="951.6" font-size="5.2" fill="#dcdcdc" font-weight="700" text-anchor="middle">OFF</text>
<path d="M728.5 904 V949.5 H735 M728.5 920.5 H734" stroke="#d0d0d0" stroke-width="0.7" fill="none"/>
<circle cx="783.3" cy="934.6" r="17" fill="#2a2a2c"/>
<circle cx="783.3" cy="934.6" r="12.2" fill="#1a1a1c"/>
<path d="M769.7 927.0 A15.6 15.6 0 0 1 791.8 921.3" stroke="#55555a" stroke-width="2.2" fill="none" opacity="0.8"/>
<path d="M782.3 937.5 L777.8 949.8" stroke="#ffffff" stroke-width="4.6" stroke-linecap="round"/>
<circle cx="849.2" cy="934.6" r="17" fill="#2a2a2c"/>
<circle cx="849.2" cy="934.6" r="12.2" fill="#1a1a1c"/>
<path d="M835.6 927.0 A15.6 15.6 0 0 1 857.7 921.3" stroke="#55555a" stroke-width="2.2" fill="none" opacity="0.8"/>
<path d="M847.3 937.0 L839.3 947.3" stroke="#ffffff" stroke-width="4.6" stroke-linecap="round"/>
<rect x="765.7" y="950.2" width="2" height="2" fill="#f2f2f2"/>
<rect x="759.3" y="938.2" width="2" height="2" fill="#f2f2f2"/>
<rect x="760.6" y="924.6" width="2" height="2" fill="#f2f2f2"/>
<rect x="769.2" y="914.1" width="2" height="2" fill="#f2f2f2"/>
<rect x="782.3" y="910.1" width="2" height="2" fill="#f2f2f2"/>
<rect x="795.4" y="914.1" width="2" height="2" fill="#f2f2f2"/>
<rect x="804.0" y="924.6" width="2" height="2" fill="#f2f2f2"/>
<rect x="805.3" y="938.2" width="2" height="2" fill="#f2f2f2"/>
<rect x="798.9" y="950.2" width="2" height="2" fill="#f2f2f2"/>
<rect x="831.6" y="950.2" width="2" height="2" fill="#f2f2f2"/>
<rect x="825.2" y="938.2" width="2" height="2" fill="#f2f2f2"/>
<rect x="826.5" y="924.6" width="2" height="2" fill="#f2f2f2"/>
<rect x="835.1" y="914.1" width="2" height="2" fill="#f2f2f2"/>
<rect x="848.2" y="910.1" width="2" height="2" fill="#f2f2f2"/>
<rect x="861.3" y="914.1" width="2" height="2" fill="#f2f2f2"/>
<rect x="869.9" y="924.6" width="2" height="2" fill="#f2f2f2"/>
<rect x="871.2" y="938.2" width="2" height="2" fill="#f2f2f2"/>
<rect x="864.8" y="950.2" width="2" height="2" fill="#f2f2f2"/>
<text x="764.5" y="956" font-size="5.2" fill="#ececec" font-weight="700" text-anchor="middle">40</text>
<text x="805.5" y="956" font-size="5.2" fill="#ececec" font-weight="700" text-anchor="middle">150</text>
<text x="827" y="956" font-size="5.2" fill="#ececec" font-weight="700" text-anchor="middle">MIN</text>
<text x="872.5" y="956" font-size="5.2" fill="#ececec" font-weight="700" text-anchor="middle">MAX</text>
<rect x="617" y="962.8" width="264.5" height="11.4" rx="5.7" fill="#f4f4f4"/>
<rect x="631" y="964.2" width="55.5" height="8.6" rx="4.3" fill="#0a0a0a"/>
<text x="658.75" y="971.1" font-size="6.6" fill="#f2f2f2" font-weight="700" textLength="44.5" lengthAdjust="spacingAndGlyphs" text-anchor="middle">INPUT/THRU</text>
<rect x="693" y="964.2" width="39" height="8.6" rx="4.3" fill="#0a0a0a"/>
<text x="712.5" y="971.1" font-size="6.6" fill="#f2f2f2" font-weight="700" textLength="28" lengthAdjust="spacingAndGlyphs" text-anchor="middle">PHASE</text>
<rect x="757" y="964.2" width="54.5" height="8.6" rx="4.3" fill="#0a0a0a"/>
<text x="784.25" y="971.1" font-size="6.6" fill="#f2f2f2" font-weight="700" textLength="43.5" lengthAdjust="spacingAndGlyphs" text-anchor="middle">FREQUENCY</text>
<rect x="829" y="964.2" width="40.5" height="8.6" rx="4.3" fill="#0a0a0a"/>
<text x="849.25" y="971.1" font-size="6.6" fill="#f2f2f2" font-weight="700" textLength="29.5" lengthAdjust="spacingAndGlyphs" text-anchor="middle">VOLUME</text>
<path d="M631.5 1004.5 L642 1023.5 H621 Z" fill="#f2f2f2"/>
<path d="M632.5 1010 L630 1016 H633 L631 1021.5" stroke="#0a0a0a" stroke-width="1.1" fill="none"/>
<path d="M746.5 1004.5 L757 1023.5 H736 Z" fill="#f2f2f2"/>
<path d="M746.5 1009.5 V1018 M746.5 1019.6 V1021.6" stroke="#0a0a0a" stroke-width="1.3" fill="none"/>
<rect x="644" y="1003.8" width="44.5" height="20" fill="#0a0a0a" stroke="#eaeaea" stroke-width="1.2"/>
<rect x="644.6" y="1013.2" width="43.3" height="10" fill="#eaeaea"/>
<text x="666.2" y="1011.6" font-size="6.2" fill="#f2f2f2" font-weight="400" textLength="21" lengthAdjust="spacingAndGlyphs" text-anchor="middle">CAUTION</text>
<rect x="690.5" y="1003.8" width="44.5" height="20" fill="#0a0a0a" stroke="#eaeaea" stroke-width="1.2"/>
<rect x="691.1" y="1013.2" width="43.3" height="10" fill="#eaeaea"/>
<text x="712.7" y="1011.6" font-size="6.2" fill="#f2f2f2" font-weight="400" textLength="31" lengthAdjust="spacingAndGlyphs" text-anchor="middle">ATTENTION</text>
<text x="666.2" y="1017.4" font-size="3" fill="#0a0a0a" font-weight="700" textLength="39" lengthAdjust="spacingAndGlyphs" text-anchor="middle">RISK OF ELECTRIC SHOCK</text>
<text x="666.2" y="1021.4" font-size="3" fill="#0a0a0a" font-weight="700" textLength="21" lengthAdjust="spacingAndGlyphs" text-anchor="middle">DO NOT OPEN</text>
<text x="712.8" y="1017.4" font-size="3" fill="#0a0a0a" font-weight="700" textLength="39" lengthAdjust="spacingAndGlyphs" text-anchor="middle">RISQUE D’ELECTROCUTION</text>
<text x="712.8" y="1021.4" font-size="3" fill="#0a0a0a" font-weight="700" textLength="23" lengthAdjust="spacingAndGlyphs" text-anchor="middle">NE PAS OUVRIR</text>
<text x="621" y="1033.8" font-size="5.6" fill="#ededed" font-weight="700" textLength="28" lengthAdjust="spacingAndGlyphs">WARNING :</text>
<text x="621" y="1038.7" font-size="4.4" fill="#e2e2e2" font-weight="700" textLength="121" lengthAdjust="spacingAndGlyphs">TO REDUCE THE RISK OF FIRE OR ELECTRICAL SHOCK,</text>
<text x="621" y="1043.5" font-size="4.4" fill="#e2e2e2" font-weight="700" textLength="127" lengthAdjust="spacingAndGlyphs">DO NOT EXPOSE THIS EQUIPMENT TO RAIN OR MOISTURE.</text>
<text x="621" y="1048.2" font-size="4.4" fill="#e2e2e2" font-weight="700" textLength="55" lengthAdjust="spacingAndGlyphs">DO NOT REMOVE COVER.</text>
<text x="621" y="1052.9" font-size="4.4" fill="#e2e2e2" font-weight="700" textLength="84" lengthAdjust="spacingAndGlyphs">NO USER SERVICEABLE PARTS INSIDE.</text>
<text x="621" y="1057.6" font-size="4.4" fill="#e2e2e2" font-weight="700" textLength="101" lengthAdjust="spacingAndGlyphs">REFER SERVICING TO QUALIFIED PERSONNEL.</text>
<text x="621" y="1066.3" font-size="5.6" fill="#ededed" font-weight="700" textLength="57" lengthAdjust="spacingAndGlyphs">AVERTISSEMENT :</text>
<text x="621" y="1071.7" font-size="4.4" fill="#e2e2e2" font-weight="700" textLength="131" lengthAdjust="spacingAndGlyphs">POUR RÉDUIRE LE RISQUE DE FEU OU CHOC ÉLECTRIQUE,</text>
<text x="621" y="1076.4" font-size="4.4" fill="#e2e2e2" font-weight="700" textLength="140" lengthAdjust="spacingAndGlyphs">NE PAS EXPOSER CET ÉQUIPEMENT À LA PLUIE OU L’HUMIDITÉ.</text>
<text x="621" y="1081.1" font-size="4.4" fill="#e2e2e2" font-weight="700" textLength="76" lengthAdjust="spacingAndGlyphs">NE PAS ENLEVER LE COUVERCLE.</text>
<text x="621" y="1085.8" font-size="4.4" fill="#e2e2e2" font-weight="700" textLength="131" lengthAdjust="spacingAndGlyphs">AUCUNE PIÈCE INTERNE RÉPARABLE PAR L’UTILISATEUR.</text>
<text x="621" y="1090.5" font-size="4.4" fill="#e2e2e2" font-weight="700" textLength="130" lengthAdjust="spacingAndGlyphs">CONFIER TOUTE RÉPARATION À UN PERSONNEL QUALIFIÉ.</text>
<circle cx="638.7" cy="1116.2" r="15.4" fill="#050505" stroke="#f0f0f0" stroke-width="2"/>
<circle cx="638.7" cy="1116.2" r="12" fill="none" stroke="#f0f0f0" stroke-width="0.8"/>
<text x="638.7" y="1123" font-size="17" fill="#f4f4f4" font-weight="700" textLength="21" lengthAdjust="spacingAndGlyphs" text-anchor="middle">ETL</text>
<text x="638.7" y="1130.2" font-size="3" fill="#e0e0e0" font-weight="700" textLength="11" lengthAdjust="spacingAndGlyphs" text-anchor="middle">LISTED</text>
<text x="619.5" y="1125.4" font-size="5.6" fill="#e8e8e8" font-weight="700" text-anchor="middle">C</text>
<text x="661.7" y="1125.4" font-size="5.6" fill="#e8e8e8" font-weight="700" text-anchor="middle">US</text>
<rect x="625.5" y="1133.3" width="30.5" height="2.2" fill="#e4e4e4"/>
<text x="640.7" y="1143.2" font-size="7.6" fill="#f0f0f0" font-weight="700" textLength="30" lengthAdjust="spacingAndGlyphs" text-anchor="middle">Intertek</text>
<text x="640.7" y="1150.6" font-size="5.6" fill="#e0e0e0" font-weight="700" textLength="24" lengthAdjust="spacingAndGlyphs" text-anchor="middle">3012110</text>
<text x="621" y="1160.2" font-size="4.4" fill="#dedede" font-weight="700" textLength="34.5" lengthAdjust="spacingAndGlyphs">CONFORMS TO</text>
<text x="621" y="1166.2" font-size="4.4" fill="#dedede" font-weight="700" textLength="45" lengthAdjust="spacingAndGlyphs">ANSI/UL STD. 60065</text>
<text x="621" y="1172.2" font-size="4.4" fill="#dedede" font-weight="700" textLength="28" lengthAdjust="spacingAndGlyphs">CERTIFIED TO</text>
<text x="621" y="1178" font-size="4.4" fill="#dedede" font-weight="700" textLength="31" lengthAdjust="spacingAndGlyphs">CAN/CSA STD.</text>
<text x="621" y="1183.8" font-size="4.4" fill="#dedede" font-weight="700" textLength="36" lengthAdjust="spacingAndGlyphs">C22.2 NO. 60065</text>
<circle cx="694.2" cy="1108.6" r="8.2" fill="none" stroke="#ededed" stroke-width="1.2"/>
<text x="694.2" y="1110.4" font-size="6.4" fill="#ededed" font-weight="700" textLength="9" lengthAdjust="spacingAndGlyphs" text-anchor="middle">PS</text>
<text x="694.2" y="1115.4" font-size="4.4" fill="#ededed" font-weight="700" text-anchor="middle">E</text>
<circle cx="727" cy="1109" r="5.2" fill="#f0f0f0"/>
<path d="M724.6 1107.2 L727 1110.6 L730.4 1105.6" stroke="#050505" stroke-width="1.3" fill="none"/>
<text x="733" y="1112.2" font-size="8.6" fill="#f0f0f0" font-weight="700" textLength="23.5" lengthAdjust="spacingAndGlyphs">N2215</text>
<text x="686" y="1139.5" font-size="17" fill="#f2f2f2" font-weight="400" textLength="9.5" lengthAdjust="spacingAndGlyphs">C</text>
<text x="696.5" y="1139.5" font-size="17" fill="#f2f2f2" font-weight="400" textLength="9" lengthAdjust="spacingAndGlyphs">E</text>
<rect x="718.6" y="1126" width="13" height="13" fill="none" stroke="#ededed" stroke-width="1.3"/>
<rect x="722" y="1129.4" width="6.2" height="6.2" fill="none" stroke="#ededed" stroke-width="1"/>
<path d="M746.5 1120.5 L760.5 1135.5 M760.5 1120.5 L746.5 1135.5" stroke="#ededed" stroke-width="1.2"/>
<path d="M749.6 1124.2 H757.6 L756.6 1133.2 H750.6 Z" fill="none" stroke="#ededed" stroke-width="1"/>
<rect x="746.5" y="1137.6" width="14" height="2.6" fill="#ededed"/>
<rect x="687.3" y="1144.6" width="71" height="42.6" fill="#f1f1f1" stroke="#8c8c8c" stroke-width="1.4"/>
<text x="692.6" y="1152.6" font-size="4.6" fill="#2a2a2a" font-weight="700" textLength="19" lengthAdjust="spacingAndGlyphs">FOSTEX</text>
<text x="717" y="1152.6" font-size="3.4" fill="#8a8a8a" font-weight="400" textLength="36" lengthAdjust="spacingAndGlyphs">MODEL: PM-SUBmini</text>
<text x="692.6" y="1158.6" font-size="4.8" fill="#6a6a6a" font-weight="400" textLength="60" lengthAdjust="spacingAndGlyphs">Active Subwoofer</text>
<path d="M692.2 1160.4 H754.6 M692.2 1166.2 H754.6 M692.2 1171.8 H754.6" stroke="#9a9a9a" stroke-width="0.5"/>
<text x="692.6" y="1164.8" font-size="3.8" fill="#7a7a7a" font-weight="400" textLength="17" lengthAdjust="spacingAndGlyphs">FOSTEX</text>
<text x="692.6" y="1170.6" font-size="4.6" fill="#5a5a5a" font-weight="400" textLength="60" lengthAdjust="spacingAndGlyphs">100V-240V~ 15W 50/60Hz</text>
<text x="692.6" y="1176.6" font-size="4" fill="#7a7a7a" font-weight="400" textLength="26" lengthAdjust="spacingAndGlyphs">SERIAL No.</text>
<text x="692.6" y="1181.8" font-size="3.8" fill="#9a9a9a" font-weight="400" textLength="25" lengthAdjust="spacingAndGlyphs">FOSTEX CO.</text>
<text x="667" y="1215.3" font-size="5.2" fill="#e6e6e6" font-weight="700" textLength="40" lengthAdjust="spacingAndGlyphs" text-anchor="middle">MADE IN CHINA</text>
<text x="805.5" y="1043.5" font-size="19.6" fill="#f6f6f6" font-weight="700" textLength="64.5" lengthAdjust="spacingAndGlyphs">FOSTEX</text>
<text x="806" y="1056.6" font-size="9.8" fill="#f2f2f2" font-weight="700" textLength="62.5" lengthAdjust="spacingAndGlyphs">PM-SUBmini</text>
<text x="806" y="1065.8" font-size="8.2" fill="#f2f2f2" font-weight="700" textLength="72" lengthAdjust="spacingAndGlyphs">Active Subwoofer</text>
<text x="838.8" y="1119.8" font-size="7" fill="#f0f0f0" font-weight="400" textLength="28" lengthAdjust="spacingAndGlyphs" text-anchor="middle">POWER</text>
<rect x="813.7" y="1125" width="50.3" height="33.2" rx="1.5" fill="#2a2a2f"/>
<rect x="821.5" y="1130" width="33" height="24.4" fill="#17171b"/>
<rect x="846" y="1130" width="8.5" height="24.4" fill="#222227"/>
<path d="M824.2 1142 H832" stroke="#f2f2f2" stroke-width="1.6"/>
<circle cx="843.6" cy="1142.6" r="3.6" fill="none" stroke="#f2f2f2" stroke-width="1.6"/>
<text x="805" y="1140.8" font-size="5" fill="#e8e8e8" font-weight="700" text-anchor="middle">ON</text>
<text x="873" y="1140.8" font-size="5" fill="#e8e8e8" font-weight="700" text-anchor="middle">OFF</text>
<text x="839" y="1169.2" font-size="6.4" fill="#e8e8e8" font-weight="400" textLength="20" lengthAdjust="spacingAndGlyphs" text-anchor="middle">AC IN</text>
<rect x="806" y="1172.6" width="65" height="36.6" rx="2.5" fill="#28282d"/>
<path d="M828.4 1182 A9.2 9.2 0 1 0 828.4 1200.4 Q833.5 1200.4 838.7 1196.4 Q843.9 1200.4 849 1200.4 A9.2 9.2 0 1 0 849 1182 Q843.9 1182 838.7 1186 Q833.5 1182 828.4 1182 Z" fill="#020202"/>
<circle cx="828" cy="1191" r="2" fill="#f4f4f4"/><circle cx="849.4" cy="1191" r="1.8" fill="#f4f4f4"/>
<text x="839.5" y="1215.3" font-size="5.2" fill="#e2e2e2" font-weight="400" textLength="57" lengthAdjust="spacingAndGlyphs" text-anchor="middle">100-240V~50/60Hz</text>
</g>
<path d="M645.5 763 L657.6 886 L659.4 886 L670.8 763 Z" fill="#fff" stroke="#231815" stroke-width="1.4" stroke-linejoin="miter"/>
<rect x="592.2" y="663.6" width="139.6" height="99.6" fill="#fff" stroke="#231815" stroke-width="1.8"/>
<rect x="646.4" y="760" width="23.6" height="5" fill="#fff"/>
<rect x="597.2" y="672" width="129.6" height="83.8" fill="#050505"/>
<circle cx="663.8" cy="714" r="6.6" fill="#0c0c0c" stroke="#3a3a3a" stroke-width="1.8"/>
<circle cx="663.8" cy="714" r="2.4" fill="#1c1c1c"/>
<g filter="url(#b1)">
<circle cx="636.5" cy="690" r="16.6" fill="#151515"/>
<circle cx="636.5" cy="690" r="13.6" fill="#f8f8f8"/>
<circle cx="636.5" cy="690" r="9.8" fill="#dcdcdc"/>
<circle cx="636.5" cy="690" r="8.2" fill="#fbfbfb"/>
<circle cx="636.5" cy="690" r="6.5" fill="#6a6a6a"/>
<circle cx="636.5" cy="690" r="5.4" fill="#060606"/>
</g>
<g filter="url(#b1)">
<circle cx="687.2" cy="690" r="16.6" fill="#151515"/>
<circle cx="687.2" cy="690" r="13.6" fill="#f8f8f8"/>
<circle cx="687.2" cy="690" r="9.8" fill="#dcdcdc"/>
<circle cx="687.2" cy="690" r="8.2" fill="#fbfbfb"/>
<circle cx="687.2" cy="690" r="6.5" fill="#6a6a6a"/>
<circle cx="687.2" cy="690" r="5.4" fill="#060606"/>
</g>
<g filter="url(#b1)">
<circle cx="636.5" cy="735" r="16.6" fill="#151515"/>
<circle cx="636.5" cy="735" r="13.6" fill="#f6efe9"/>
<circle cx="636.5" cy="735" r="10.9" fill="#f2a9a8"/>
<circle cx="636.5" cy="735" r="8.4" fill="#e4646a"/>
<circle cx="636.5" cy="735" r="5.7" fill="#6e1218"/>
<circle cx="636.5" cy="735" r="4.1" fill="#0a0505"/>
</g>
<g filter="url(#b1)">
<circle cx="687.2" cy="735" r="16.6" fill="#151515"/>
<circle cx="687.2" cy="735" r="13.6" fill="#f6efe9"/>
<circle cx="687.2" cy="735" r="10.9" fill="#f2a9a8"/>
<circle cx="687.2" cy="735" r="8.4" fill="#e4646a"/>
<circle cx="687.2" cy="735" r="5.7" fill="#6e1218"/>
<circle cx="687.2" cy="735" r="4.1" fill="#0a0505"/>
</g>
<g transform="translate(508 694) rotate(0)"><rect x="0" y="-6.3" width="21" height="12.6" rx="1.6" fill="#fff" stroke="#231815" stroke-width="1.3"/><rect x="1.72" y="-6.00" width="1.30" height="12.00" fill="#2c2724"/><rect x="5.54" y="-6.00" width="1.30" height="12.00" fill="#2c2724"/><rect x="9.35" y="-6.00" width="1.30" height="12.00" fill="#2c2724"/><rect x="13.17" y="-6.00" width="1.30" height="12.00" fill="#2c2724"/><rect x="16.99" y="-6.00" width="1.30" height="12.00" fill="#2c2724"/><rect x="1" y="-2.3" width="20" height="1.5" fill="#fff"/><rect x="1" y="0.8" width="20" height="1.5" fill="#fff"/><rect x="0.6" y="-0.7" width="20.4" height="1.4" fill="#2c2724"/><rect x="35" y="-9.1" width="15.6" height="18.2" fill="#ffffff" stroke="#231815" stroke-width="1.2"/><path d="M20.6 -6.8 L24.4 -12 L36.2 -9.3 L36.2 9.3 L24.4 12 L20.6 6.8 Z" fill="#d2d2d2" stroke="#231815" stroke-width="1.2" stroke-linejoin="round"/><path d="M25.6 -11.4 V11.4" stroke="#8f8f8f" stroke-width="0.9"/><path d="M27.8 -10.9 V10.9" stroke="#8f8f8f" stroke-width="0.9"/><path d="M30.0 -10.4 V10.4" stroke="#8f8f8f" stroke-width="0.9"/><path d="M32.2 -9.9 V9.9" stroke="#8f8f8f" stroke-width="0.9"/><path d="M34.4 -9.4 V9.4" stroke="#8f8f8f" stroke-width="0.9"/><rect x="50.6" y="-7" width="10.4" height="14" fill="#fff" stroke="#231815" stroke-width="1.3"/><rect x="61" y="-2" width="7.2" height="4" rx="1.6" fill="#fff" stroke="#231815" stroke-width="0.9"/></g>
<g transform="translate(508 734) rotate(0)"><rect x="0" y="-6.3" width="21" height="12.6" rx="1.6" fill="#fff" stroke="#231815" stroke-width="1.3"/><rect x="1.72" y="-6.00" width="1.30" height="12.00" fill="#2c2724"/><rect x="5.54" y="-6.00" width="1.30" height="12.00" fill="#2c2724"/><rect x="9.35" y="-6.00" width="1.30" height="12.00" fill="#2c2724"/><rect x="13.17" y="-6.00" width="1.30" height="12.00" fill="#2c2724"/><rect x="16.99" y="-6.00" width="1.30" height="12.00" fill="#2c2724"/><rect x="1" y="-2.3" width="20" height="1.5" fill="#fff"/><rect x="1" y="0.8" width="20" height="1.5" fill="#fff"/><rect x="0.6" y="-0.7" width="20.4" height="1.4" fill="#2c2724"/><rect x="35" y="-9.1" width="15.6" height="18.2" fill="#e60012" stroke="#8e0a10" stroke-width="1.2"/><path d="M20.6 -6.8 L24.4 -12 L36.2 -9.3 L36.2 9.3 L24.4 12 L20.6 6.8 Z" fill="#c5121a" stroke="#8e0a10" stroke-width="1.2" stroke-linejoin="round"/><path d="M27 -10.8 L35.4 -8.9 V8.9 L27 10.8 Z" fill="#d8141c"/><rect x="50.6" y="-7" width="10.4" height="14" fill="#fff" stroke="#231815" stroke-width="1.3"/><rect x="61" y="-2" width="7.2" height="4" rx="1.6" fill="#fff" stroke="#231815" stroke-width="0.9"/></g>
<g transform="translate(819.5 694.5) rotate(180)"><rect x="0" y="-6.3" width="21" height="12.6" rx="1.6" fill="#fff" stroke="#231815" stroke-width="1.3"/><rect x="1.72" y="-6.00" width="1.30" height="12.00" fill="#2c2724"/><rect x="5.54" y="-6.00" width="1.30" height="12.00" fill="#2c2724"/><rect x="9.35" y="-6.00" width="1.30" height="12.00" fill="#2c2724"/><rect x="13.17" y="-6.00" width="1.30" height="12.00" fill="#2c2724"/><rect x="16.99" y="-6.00" width="1.30" height="12.00" fill="#2c2724"/><rect x="1" y="-2.3" width="20" height="1.5" fill="#fff"/><rect x="1" y="0.8" width="20" height="1.5" fill="#fff"/><rect x="0.6" y="-0.7" width="20.4" height="1.4" fill="#2c2724"/><rect x="35" y="-9.1" width="15.6" height="18.2" fill="#ffffff" stroke="#231815" stroke-width="1.2"/><path d="M20.6 -6.8 L24.4 -12 L36.2 -9.3 L36.2 9.3 L24.4 12 L20.6 6.8 Z" fill="#d2d2d2" stroke="#231815" stroke-width="1.2" stroke-linejoin="round"/><path d="M25.6 -11.4 V11.4" stroke="#8f8f8f" stroke-width="0.9"/><path d="M27.8 -10.9 V10.9" stroke="#8f8f8f" stroke-width="0.9"/><path d="M30.0 -10.4 V10.4" stroke="#8f8f8f" stroke-width="0.9"/><path d="M32.2 -9.9 V9.9" stroke="#8f8f8f" stroke-width="0.9"/><path d="M34.4 -9.4 V9.4" stroke="#8f8f8f" stroke-width="0.9"/><rect x="50.6" y="-7" width="10.4" height="14" fill="#fff" stroke="#231815" stroke-width="1.3"/><rect x="61" y="-2" width="7.2" height="4" rx="1.6" fill="#fff" stroke="#231815" stroke-width="0.9"/></g>
<g transform="translate(819.5 734) rotate(180)"><rect x="0" y="-6.3" width="21" height="12.6" rx="1.6" fill="#fff" stroke="#231815" stroke-width="1.3"/><rect x="1.72" y="-6.00" width="1.30" height="12.00" fill="#2c2724"/><rect x="5.54" y="-6.00" width="1.30" height="12.00" fill="#2c2724"/><rect x="9.35" y="-6.00" width="1.30" height="12.00" fill="#2c2724"/><rect x="13.17" y="-6.00" width="1.30" height="12.00" fill="#2c2724"/><rect x="16.99" y="-6.00" width="1.30" height="12.00" fill="#2c2724"/><rect x="1" y="-2.3" width="20" height="1.5" fill="#fff"/><rect x="1" y="0.8" width="20" height="1.5" fill="#fff"/><rect x="0.6" y="-0.7" width="20.4" height="1.4" fill="#2c2724"/><rect x="35" y="-9.1" width="15.6" height="18.2" fill="#e60012" stroke="#8e0a10" stroke-width="1.2"/><path d="M20.6 -6.8 L24.4 -12 L36.2 -9.3 L36.2 9.3 L24.4 12 L20.6 6.8 Z" fill="#c5121a" stroke="#8e0a10" stroke-width="1.2" stroke-linejoin="round"/><path d="M27 -10.8 L35.4 -8.9 V8.9 L27 10.8 Z" fill="#d8141c"/><rect x="50.6" y="-7" width="10.4" height="14" fill="#fff" stroke="#231815" stroke-width="1.3"/><rect x="61" y="-2" width="7.2" height="4" rx="1.6" fill="#fff" stroke="#231815" stroke-width="0.9"/></g>
<polygon points="572.5,691.6 607.5,691.6 607.5,684.2 623.5,694 607.5,703.8 607.5,696.4 572.5,696.4" fill="#f4a90f"/>
<polygon points="572.5,731.6 607.5,731.6 607.5,724.2 623.5,734 607.5,743.8 607.5,736.4 572.5,736.4" fill="#f4a90f"/>
<polygon points="755.5,692.1 722,692.1 722,684.7 706,694.5 722,704.3 722,696.9 755.5,696.9" fill="#f4a90f"/>
<polygon points="755.5,731.6 722,731.6 722,724.2 706,734 722,743.8 722,736.4 755.5,736.4" fill="#f4a90f"/>
<g transform="translate(408 930.5) rotate(90)"><rect x="0" y="-6.3" width="21" height="12.6" rx="1.6" fill="#fff" stroke="#231815" stroke-width="1.3"/><rect x="1.72" y="-6.00" width="1.30" height="12.00" fill="#2c2724"/><rect x="5.54" y="-6.00" width="1.30" height="12.00" fill="#2c2724"/><rect x="9.35" y="-6.00" width="1.30" height="12.00" fill="#2c2724"/><rect x="13.17" y="-6.00" width="1.30" height="12.00" fill="#2c2724"/><rect x="16.99" y="-6.00" width="1.30" height="12.00" fill="#2c2724"/><rect x="1" y="-2.3" width="20" height="1.5" fill="#fff"/><rect x="1" y="0.8" width="20" height="1.5" fill="#fff"/><rect x="0.6" y="-0.7" width="20.4" height="1.4" fill="#2c2724"/><rect x="35" y="-9.1" width="15.6" height="18.2" fill="#e60012" stroke="#8e0a10" stroke-width="1.2"/><path d="M20.6 -6.8 L24.4 -12 L36.2 -9.3 L36.2 9.3 L24.4 12 L20.6 6.8 Z" fill="#c5121a" stroke="#8e0a10" stroke-width="1.2" stroke-linejoin="round"/><path d="M27 -10.8 L35.4 -8.9 V8.9 L27 10.8 Z" fill="#d8141c"/><rect x="50.6" y="-7" width="10.4" height="14" fill="#fff" stroke="#231815" stroke-width="1.3"/><rect x="61" y="-2" width="12.4" height="4" rx="1.6" fill="#fff" stroke="#231815" stroke-width="0.9"/></g>
<g transform="translate(447.8 930.5) rotate(90)"><rect x="0" y="-6.3" width="21" height="12.6" rx="1.6" fill="#fff" stroke="#231815" stroke-width="1.3"/><rect x="1.72" y="-6.00" width="1.30" height="12.00" fill="#2c2724"/><rect x="5.54" y="-6.00" width="1.30" height="12.00" fill="#2c2724"/><rect x="9.35" y="-6.00" width="1.30" height="12.00" fill="#2c2724"/><rect x="13.17" y="-6.00" width="1.30" height="12.00" fill="#2c2724"/><rect x="16.99" y="-6.00" width="1.30" height="12.00" fill="#2c2724"/><rect x="1" y="-2.3" width="20" height="1.5" fill="#fff"/><rect x="1" y="0.8" width="20" height="1.5" fill="#fff"/><rect x="0.6" y="-0.7" width="20.4" height="1.4" fill="#2c2724"/><rect x="35" y="-9.1" width="15.6" height="18.2" fill="#ffffff" stroke="#231815" stroke-width="1.2"/><path d="M20.6 -6.8 L24.4 -12 L36.2 -9.3 L36.2 9.3 L24.4 12 L20.6 6.8 Z" fill="#d2d2d2" stroke="#231815" stroke-width="1.2" stroke-linejoin="round"/><path d="M25.6 -11.4 V11.4" stroke="#8f8f8f" stroke-width="0.9"/><path d="M27.8 -10.9 V10.9" stroke="#8f8f8f" stroke-width="0.9"/><path d="M30.0 -10.4 V10.4" stroke="#8f8f8f" stroke-width="0.9"/><path d="M32.2 -9.9 V9.9" stroke="#8f8f8f" stroke-width="0.9"/><path d="M34.4 -9.4 V9.4" stroke="#8f8f8f" stroke-width="0.9"/><rect x="50.6" y="-7" width="10.4" height="14" fill="#fff" stroke="#231815" stroke-width="1.3"/><rect x="61" y="-2" width="12.4" height="4" rx="1.6" fill="#fff" stroke="#231815" stroke-width="0.9"/></g>
<text x="168" y="91.2" font-size="84" fill="#231815" font-weight="500" stroke="#231815" stroke-width="0.5" stroke-linejoin="round">＜</text>
<text x="250.5 334 417.6" y="91.2" font-size="84" fill="#231815" font-weight="500" stroke="#231815" stroke-width="0.5" stroke-linejoin="round">接続例</text>
<text x="501.5" y="91.2" font-size="84" fill="#231815" font-weight="500" stroke="#231815" stroke-width="0.5" stroke-linejoin="round">＞</text>
<text x="14" y="270.5" font-size="35.8" fill="#231815" font-weight="500">※</text>
<text x="49" y="270.5" font-size="38" fill="#231815" textLength="97.5" lengthAdjust="spacingAndGlyphs" font-weight="500" stroke="#231815" stroke-width="1.1" stroke-linejoin="round">PM0.1</text>
<text x="150" y="270.5" font-size="35.8" fill="#231815" font-weight="500">や</text>
<text x="184" y="270.5" font-size="38" fill="#231815" textLength="100.5" lengthAdjust="spacingAndGlyphs" font-weight="500" stroke="#231815" stroke-width="1.1" stroke-linejoin="round">PM0.3</text>
<text x="285" y="270.5" font-size="35.8" fill="#231815" font-weight="500">に付属。</text>
<text x="430.3" y="270.5" font-size="35.8" fill="#231815" font-weight="500">他のアクティブスピーカー</text>
<text x="14" y="313" font-size="35.8" fill="#231815" font-weight="500">と組み合わせる場合は別途お求め下さい。</text>
<text x="419.3" y="447.7" font-size="38" fill="#231815" textLength="79" lengthAdjust="spacingAndGlyphs" font-weight="500" stroke="#231815" stroke-width="1.1" stroke-linejoin="round">RCA-</text>
<text x="497" y="447.2" font-size="35.8" fill="#231815" font-weight="500">ステレオミニケーブル</text>
<text x="1099.5" y="29.4" font-size="37.2" fill="#231815" textLength="42.5" lengthAdjust="spacingAndGlyphs" font-weight="500" stroke="#231815" stroke-width="1.1" stroke-linejoin="round">TV</text>
<text x="1213.8" y="356.4" font-size="35.8" fill="#231815" font-weight="500">パソコン</text>
<text x="1176" y="671.5" font-size="35.8" fill="#231815" font-weight="500">スマートフォンなど</text>
<text x="899" y="737.5" font-size="38" fill="#231815" textLength="64" lengthAdjust="spacingAndGlyphs" font-weight="500" stroke="#231815" stroke-width="1.1" stroke-linejoin="round">RCA</text>
<text x="964" y="737.5" font-size="35.8" fill="#231815" font-weight="500">ピンケーブル</text>
<text x="897" y="781.5" font-size="35.8" fill="#231815" font-weight="500">※本機に付属</text>
<text x="28" y="1336.5" font-size="35.8" fill="#231815" font-weight="500">アクティブスピーカー</text>
<text x="26" y="1384" font-size="38" fill="#231815" textLength="100" lengthAdjust="spacingAndGlyphs" font-weight="500" stroke="#231815" stroke-width="1.1" stroke-linejoin="round">PM0.1</text>
<text x="128" y="1384.5" font-size="35.8" fill="#231815" font-weight="500">や</text>
<text x="161.7" y="1384" font-size="38" fill="#231815" textLength="102.5" lengthAdjust="spacingAndGlyphs" font-weight="500" stroke="#231815" stroke-width="1.1" stroke-linejoin="round">PM0.3</text>
<text x="264.5" y="1384.5" font-size="35.8" fill="#231815" font-weight="500">など</text>
<text x="347" y="1384" font-size="35.8" fill="#231815" font-weight="500">（</text>
<text x="381.5" y="1384" font-size="35.8" fill="#231815" font-weight="500">別売</text>
<text x="451" y="1384" font-size="35.8" fill="#231815" font-weight="500">）</text>
<text x="643.5" y="1385.7" font-size="35.8" fill="#231815" font-weight="500">スピーカーケーブル</text>
<text x="641.2" y="1430.6" font-size="35.8" fill="#231815" font-weight="500">※</text>
<text x="676" y="1430" font-size="38" fill="#231815" textLength="100" lengthAdjust="spacingAndGlyphs" font-weight="500" stroke="#231815" stroke-width="1.1" stroke-linejoin="round">PM0.1</text>
<text x="778" y="1430.6" font-size="35.8" fill="#231815" font-weight="500">や</text>
<text x="811.7" y="1430" font-size="38" fill="#231815" textLength="102.5" lengthAdjust="spacingAndGlyphs" font-weight="500" stroke="#231815" stroke-width="1.1" stroke-linejoin="round">PM0.3</text>
<text x="914.5" y="1430.6" font-size="35.8" fill="#231815" font-weight="500">に付属</text>
</svg>
</body>
</html>
